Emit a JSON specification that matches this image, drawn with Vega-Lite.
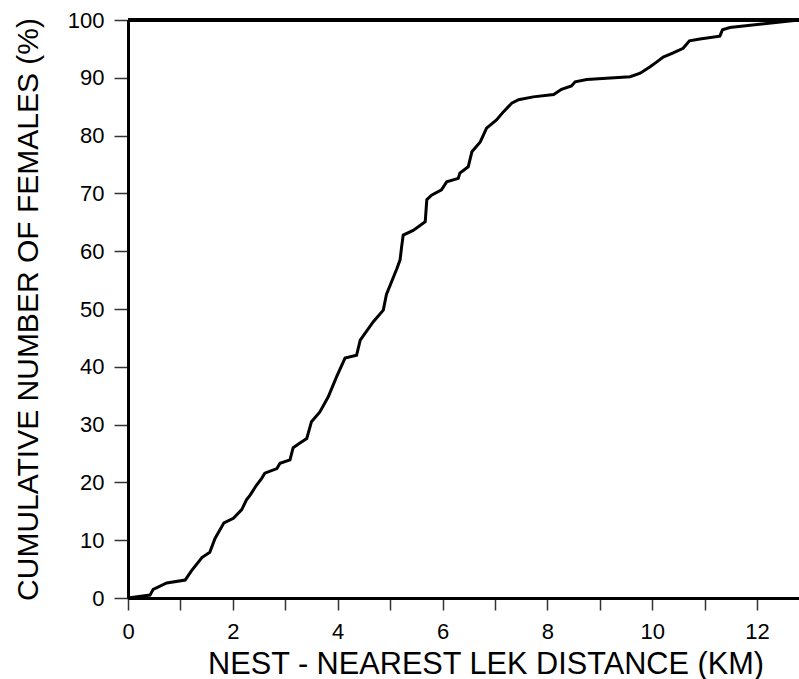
{
  "$schema": "https://vega.github.io/schema/vega-lite/v6.json",
  "width": 671,
  "height": 578,
  "autosize": {"type": "none"},
  "padding": {"left": 128, "top": 20, "right": 0, "bottom": 81},
  "background": "white",
  "config": {
    "view": {"stroke": null},
    "font": "Liberation Sans",
    "axis": {"grid": false, "labelFont": "Liberation Sans", "titleFont": "Liberation Sans", "labelColor": "black", "titleColor": "black", "titleFontWeight": "normal"}
  },
  "data": {
    "values": [
      {"d": 0, "p": 0}, {"d": 0.42, "p": 0.5}, {"d": 0.48, "p": 1.5}, {"d": 0.74, "p": 2.6},
      {"d": 1.09, "p": 3.1}, {"d": 1.21, "p": 4.7}, {"d": 1.41, "p": 7.0}, {"d": 1.56, "p": 7.9},
      {"d": 1.66, "p": 10.3}, {"d": 1.83, "p": 13.0}, {"d": 2.01, "p": 13.8}, {"d": 2.17, "p": 15.3},
      {"d": 2.26, "p": 17.0}, {"d": 2.33, "p": 17.8}, {"d": 2.45, "p": 19.5}, {"d": 2.55, "p": 20.7},
      {"d": 2.61, "p": 21.6}, {"d": 2.84, "p": 22.4}, {"d": 2.90, "p": 23.3}, {"d": 3.09, "p": 23.9},
      {"d": 3.15, "p": 26.0}, {"d": 3.28, "p": 26.8}, {"d": 3.41, "p": 27.6}, {"d": 3.50, "p": 30.5},
      {"d": 3.66, "p": 32.2}, {"d": 3.82, "p": 34.8}, {"d": 3.98, "p": 38.3}, {"d": 4.14, "p": 41.5},
      {"d": 4.36, "p": 42.0}, {"d": 4.43, "p": 44.6}, {"d": 4.68, "p": 47.8}, {"d": 4.87, "p": 49.8},
      {"d": 4.93, "p": 52.5}, {"d": 5.13, "p": 57.0}, {"d": 5.19, "p": 58.5}, {"d": 5.22, "p": 60.8},
      {"d": 5.25, "p": 62.8}, {"d": 5.44, "p": 63.6}, {"d": 5.67, "p": 65.1}, {"d": 5.70, "p": 68.9},
      {"d": 5.79, "p": 69.7}, {"d": 5.98, "p": 70.6}, {"d": 6.08, "p": 72.0}, {"d": 6.30, "p": 72.6},
      {"d": 6.33, "p": 73.5}, {"d": 6.49, "p": 74.6}, {"d": 6.56, "p": 77.2}, {"d": 6.72, "p": 78.9},
      {"d": 6.84, "p": 81.3}, {"d": 7.03, "p": 82.7}, {"d": 7.16, "p": 84.1}, {"d": 7.32, "p": 85.6},
      {"d": 7.45, "p": 86.2}, {"d": 7.73, "p": 86.7}, {"d": 8.12, "p": 87.1}, {"d": 8.27, "p": 88.0},
      {"d": 8.46, "p": 88.6}, {"d": 8.53, "p": 89.3}, {"d": 8.75, "p": 89.7}, {"d": 9.58, "p": 90.2},
      {"d": 9.77, "p": 90.8}, {"d": 9.96, "p": 91.9}, {"d": 10.05, "p": 92.5}, {"d": 10.21, "p": 93.6},
      {"d": 10.40, "p": 94.3}, {"d": 10.59, "p": 95.1}, {"d": 10.71, "p": 96.4}, {"d": 10.91, "p": 96.7},
      {"d": 11.29, "p": 97.2}, {"d": 11.34, "p": 98.3}, {"d": 11.48, "p": 98.7}, {"d": 12.8, "p": 100}
    ]
  },
  "layer": [
    {
      "mark": {"type": "line", "color": "black", "strokeWidth": 3, "strokeJoin": "miter"},
      "encoding": {
        "x": {
          "field": "d", "type": "quantitative",
          "scale": {"domain": [0, 12.8], "nice": false, "zero": false},
          "axis": {
            "title": "NEST - NEAREST LEK DISTANCE (KM)",
            "values": [0, 1, 2, 3, 4, 5, 6, 7, 8, 9, 10, 11, 12],
            "labelExpr": "datum.value % 2 === 0 ? datum.label : ''",
            "labelFontSize": 22,
            "labelPadding": 11,
            "labelFlush": false,
            "labelOverlap": false,
            "tickSize": 12,
            "tickWidth": 1.5,
            "tickColor": "#333333",
            "domainColor": "black",
            "domainWidth": 3,
            "titleFontSize": 30.7,
            "titleBaseline": "alphabetic",
            "titleAlign": "center",
            "titleX": 357.5,
            "titleY": 75,
            "encode": {"ticks": {"update": {"y2": {"signal": "datum.value % 2 === 0 ? 12 : 7"}}}}
          }
        },
        "y": {
          "field": "p", "type": "quantitative",
          "scale": {"domain": [0, 100], "nice": false},
          "axis": {
            "title": "CUMULATIVE NUMBER OF FEMALES (%)",
            "values": [0, 5, 10, 15, 20, 25, 30, 35, 40, 45, 50, 55, 60, 65, 70, 75, 80, 85, 90, 95, 100],
            "labelExpr": "datum.value % 10 === 0 ? datum.label : ''",
            "labelFontSize": 22,
            "labelPadding": 10,
            "labelFlush": false,
            "labelOverlap": false,
            "tickSize": 14,
            "tickWidth": 1.5,
            "tickColor": "#333333",
            "domainColor": "black",
            "domainWidth": 3,
            "titleFontSize": 30,
            "titleBaseline": "alphabetic",
            "titleAngle": -90,
            "titleAlign": "center",
            "titleX": -91,
            "titleY": 289,
            "encode": {"ticks": {"update": {"x2": {"signal": "datum.value % 10 === 0 ? -14 : -6"}}}}
          }
        }
      }
    },
    {
      "mark": {"type": "rule", "color": "black", "strokeWidth": 3},
      "encoding": {"y": {"datum": 100, "type": "quantitative"}}
    }
  ]
}
